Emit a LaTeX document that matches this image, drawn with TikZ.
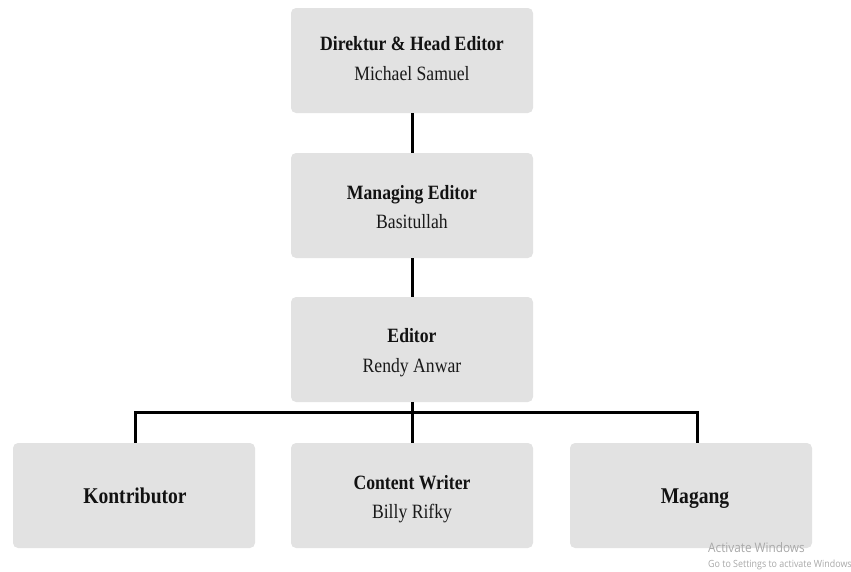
\documentclass[tikz,border=0pt]{standalone}
\usepackage{fontspec}
\setmainfont[FakeStretch=0.87]{Liberation Serif}
\newfontfamily\wmfont[FakeStretch=0.9]{Open Sans}
\definecolor{boxgray}{HTML}{E2E2E2}
\definecolor{wmgray}{HTML}{A8A8A8}
\tikzset{
  orgbox/.style={fill=boxgray, draw=none, rounded corners=5pt, minimum width=242pt, minimum height=105pt, inner sep=0pt},
  conn/.style={draw=black, line width=3pt},
  ttl/.style={anchor=base, inner sep=0pt, text=black!93, font=\fontsize{20.3}{24}\selectfont\bfseries},
  big/.style={anchor=base, inner sep=0pt, text=black!93, font=\fontsize{22.5}{26}\selectfont\bfseries},
  nm/.style={anchor=base, inner sep=0pt, text=black!90, font=\fontsize{20.3}{24}\selectfont},
}
\begin{document}
\begin{tikzpicture}[x=1pt,y=-1pt]
\useasboundingbox (0,0) rectangle (851,571);
\node[orgbox] (dir) at (412,60.5) {};
\node[orgbox] (man) at (412,205.5) {};
\node[orgbox] (edi) at (412,349.5) {};
\node[orgbox] (kon) at (134,495.5) {};
\node[orgbox] (cw) at (412,495.5) {};
\node[orgbox] (mag) at (691,495.5) {};

\node[ttl] (dirT) at (412,50) {Direktur \& Head Editor};
\node[nm] (dirN) at (412,80) {Michael Samuel};
\node[ttl] (manT) at (412,199) {Managing Editor};
\node[nm] (manN) at (412,228) {Basitullah};
\node[ttl] (ediT) at (412,342) {Editor};
\node[nm] (ediN) at (412,372) {Rendy Anwar};
\node[big] (konT) at (135,503) {Kontributor};
\node[ttl] (cwT) at (412,489) {Content Writer};
\node[nm] (cwN) at (412,518) {Billy Rifky};
\node[big] (magT) at (695,503) {Magang};

\coordinate (busL) at (135,412);
\coordinate (busR) at (697,412);
\draw[conn] (dir.south) -- (man.north);
\draw[conn] (man.south) -- (edi.north);
\draw[conn] (edi.south) -- (cw.north);
\draw[conn] (kon.north -| busL) -- (busL) -- (busR) -- (mag.north -| busR);

\node[anchor=base west, text=wmgray, inner sep=0pt, font=\wmfont\fontsize{13.1}{15}\selectfont] (wm1) at (708,552) {Activate Windows};
\node[anchor=base west, text=wmgray, inner sep=0pt, font=\wmfont\fontsize{9.9}{11}\selectfont] (wm2) at (708,567) {Go to Settings to activate Windows};
\end{tikzpicture}
\end{document}
